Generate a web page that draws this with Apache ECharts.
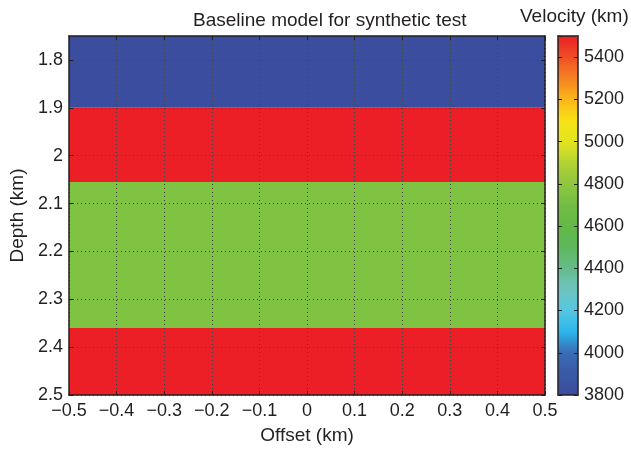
<!DOCTYPE html>
<html>
<head>
<meta charset="utf-8">
<script src="https://cdn.jsdelivr.net/npm/echarts@6/dist/echarts.min.js"></script>
<style>html,body{margin:0;padding:0;background:#fff}#c{width:631px;height:450px}</style>
</head>
<body>
<div id="c"></div>
<script>
// ---- data ----
const offsetMin = -0.5;
const offsetMax = 0.5;
const layerTops = [1.75, 1.9, 2.055, 2.36];
const layerBottoms = [1.9, 2.055, 2.36, 2.5];
const layerVelocity = [3800, 5500, 4750, 5500];
const depthTicks = [1.8, 1.9, 2, 2.1, 2.2, 2.3, 2.4, 2.5];
const velocityMin = 3800;
const velocityMax = 5500;
const colormap = ['#3a4d9e','#3a5aa6','#3a6bb4','#2bb6ec','#55c7e2','#6fc4bf','#64bb8a','#5fb85c','#62b946','#72bd43','#8ec63f','#b3d334','#e3e41e','#f7e216','#fbb519','#f58220','#f04e25','#ec1f26'];

const font = "'Liberation Sans', Arial, sans-serif";
const txt = '#231f20';
const minus = v => String(v).replace('-', '\u2212');

const data = layerTops.map((t, i) => [offsetMin, offsetMax, t, layerBottoms[i], layerVelocity[i]]);

const chart = echarts.init(document.getElementById('c'), null, {renderer: 'canvas'});
const axisLine = {show: true, onZero: false, lineStyle: {color: '#231f20', width: 1.5}};
const tickIn = {show: true, inside: true, length: 4, lineStyle: {color: '#231f20', width: 1}};
const labelStyle = {color: txt, fontSize: 18, fontFamily: font};

chart.setOption({
  animation: false,
  title: [
    {text: 'Baseline model for synthetic test', left: 193, top: 11, textStyle: {color: txt, fontSize: 19, fontWeight: 'normal', fontFamily: font}, padding: 0},
    {text: 'Velocity (km)', left: 520, top: 7, textStyle: {color: txt, fontSize: 19, fontWeight: 'normal', fontFamily: font}, padding: 0}
  ],
  grid: [
    {left: 66, right: 86, top: 36, bottom: 55},
    {left: 558, width: 20, top: 36, bottom: 55}
  ],
  xAxis: [
    {type: 'value', gridIndex: 0, min: offsetMin, max: offsetMax, interval: 0.1, position: 'bottom',
     name: 'Offset (km)', nameLocation: 'middle', nameGap: 31, nameTextStyle: {color: txt, fontSize: 19, fontFamily: font},
     axisLine: axisLine, axisTick: tickIn, axisLabel: Object.assign({margin: 7, formatter: minus}, labelStyle),
     splitLine: {show: true, lineStyle: {color: '#444', type: [1, 3], width: 1}}, z: 5},
    {type: 'value', gridIndex: 0, min: offsetMin, max: offsetMax, interval: 0.1, position: 'top',
     axisLine: axisLine, axisTick: tickIn, axisLabel: {show: false}, splitLine: {show: false}, z: 5},
    {type: 'value', gridIndex: 1, min: 0, max: 1, position: 'bottom', axisLine: axisLine, axisTick: {show: false}, axisLabel: {show: false}, splitLine: {show: false}, z: 6},
    {type: 'value', gridIndex: 1, min: 0, max: 1, position: 'top', axisLine: axisLine, axisTick: {show: false}, axisLabel: {show: false}, splitLine: {show: false}, z: 6}
  ],
  yAxis: [
    {type: 'value', gridIndex: 0, min: layerTops[0], max: layerBottoms[layerBottoms.length - 1], inverse: true, position: 'left',
     name: 'Depth (km)', nameLocation: 'middle', nameGap: 42, nameTextStyle: {color: txt, fontSize: 19, fontFamily: font},
     axisLine: axisLine, axisTick: Object.assign({customValues: depthTicks}, tickIn),
     axisLabel: Object.assign({customValues: depthTicks, margin: 6}, labelStyle),
     splitLine: {show: true, lineStyle: {color: '#444', type: [1, 3], width: 1}}, z: 5},
    {type: 'value', gridIndex: 0, min: layerTops[0], max: layerBottoms[layerBottoms.length - 1], inverse: true, position: 'right',
     axisLine: axisLine, axisTick: Object.assign({customValues: depthTicks}, tickIn), axisLabel: {show: false}, splitLine: {show: false}, z: 5},
    {type: 'value', gridIndex: 1, min: velocityMin, max: velocityMax, interval: 200, position: 'right',
     axisLine: axisLine, axisTick: tickIn, axisLabel: Object.assign({margin: 6, showMaxLabel: false, formatter: v => String(v)}, labelStyle), splitLine: {show: false}, z: 6},
    {type: 'value', gridIndex: 1, min: velocityMin, max: velocityMax, interval: 200, position: 'left',
     axisLine: axisLine, axisTick: tickIn, axisLabel: {show: false}, splitLine: {show: false}, z: 6}
  ],
  visualMap: {
    type: 'continuous', min: velocityMin, max: velocityMax, seriesIndex: 0, dimension: 4,
    calculable: false, orient: 'vertical', left: 558, top: 36, itemWidth: 20, itemHeight: 359, padding: 0,
    inRange: {color: colormap}, hoverLink: false, z: 1
  },
  series: [{
    type: 'custom', xAxisIndex: 0, yAxisIndex: 0, clip: true, z: 1,
    encode: {x: [0, 1], y: [2, 3]},
    data: data,
    renderItem: function (params, api) {
      const p1 = api.coord([api.value(0), api.value(2)]);
      const p2 = api.coord([api.value(1), api.value(3)]);
      return {
        type: 'rect',
        shape: {x: Math.min(p1[0], p2[0]), y: Math.min(p1[1], p2[1]), width: Math.abs(p2[0] - p1[0]), height: Math.abs(p2[1] - p1[1])},
        style: {fill: api.visual('color')}
      };
    }
  }]
});
</script>
</body>
</html>
